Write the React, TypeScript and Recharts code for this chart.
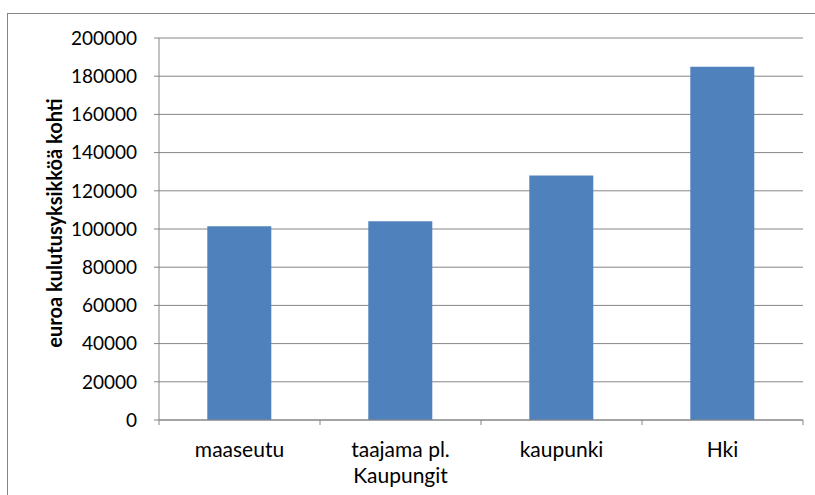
import { BarChart, Bar, XAxis, YAxis, CartesianGrid, Text } from "recharts";

const categories = ["maaseutu", "taajama pl. Kaupungit", "kaupunki", "Hki"];
const values = [101400, 104000, 128000, 185000];
const yTicks = [0, 20000, 40000, 60000, 80000, 100000, 120000, 140000, 160000, 180000, 200000];
const yTitle = "euroa kulutusyksikköä kohti";

const data = categories.map((name, i) => ({ name, value: values[i] }));

const FONT = "Lato, 'Open Sans', sans-serif";
const AXIS_GRAY = "#868686";
const labelStyle = { fontSize: 21, fontFamily: FONT };

// Category label plus Excel-style tick marks on the band edges.
function CategoryTick(props: any) {
  const { x, y, payload, index, visibleTicksCount } = props;
  const half = payload.offset ?? 0;
  const axisY = y - 5;
  const isLast = index === visibleTicksCount - 1;
  return (
    <g>
      <line x1={x - half} x2={x - half} y1={axisY} y2={axisY + 5} stroke={AXIS_GRAY} />
      {isLast && <line x1={x + half} x2={x + half} y1={axisY} y2={axisY + 5} stroke={AXIS_GRAY} />}
      <Text
        x={x}
        y={y + 17}
        width={130}
        textAnchor="middle"
        verticalAnchor="start"
        lineHeight={26}
        fill="#000"
        style={labelStyle}
      >
        {payload.value}
      </Text>
    </g>
  );
}

function YTitle(props: any) {
  const { x, y, height } = props.viewBox;
  return (
    <text
      transform={`translate(${x + 54}, ${y + height / 2 - 6}) rotate(-90)`}
      textAnchor="middle"
      dominantBaseline="central"
      fontFamily={FONT}
      fontWeight="bold"
      fontSize={20}
      fill="#000"
    >
      {yTitle}
    </text>
  );
}

export default function App() {
  return (
    <div
      style={{
        position: "absolute",
        left: 0,
        top: 0,
        width: 815,
        height: 495,
        background: "#fff",
        overflow: "hidden",
      }}
    >
      <div
        style={{
          position: "absolute",
          left: 7,
          top: 13,
          width: 900,
          height: 600,
          borderTop: `1px solid ${AXIS_GRAY}`,
          borderLeft: `1px solid ${AXIS_GRAY}`,
        }}
      />
      <BarChart
        width={815}
        height={495}
        data={data}
        margin={{ top: 38, right: 12, bottom: 0, left: 0 }}
        barCategoryGap="30%"
        style={{ position: "absolute", left: 0, top: 0 }}
      >
        <CartesianGrid vertical={false} stroke={AXIS_GRAY} />
        <XAxis
          dataKey="name"
          height={75}
          interval={0}
          tickSize={5}
          tickMargin={0}
          tickLine={false}
          axisLine={{ stroke: AXIS_GRAY }}
          tick={<CategoryTick />}
        />
        <YAxis
          width={159}
          domain={[0, 200000]}
          ticks={yTicks}
          interval={0}
          tickSize={5}
          tickMargin={17}
          tickLine={{ stroke: AXIS_GRAY }}
          axisLine={{ stroke: AXIS_GRAY }}
          tick={{ fill: "#000", fontSize: 19, fontFamily: FONT }}
          label={<YTitle />}
        />
        <Bar dataKey="value" fill="#4F81BD" isAnimationActive={false} />
      </BarChart>
    </div>
  );
}
